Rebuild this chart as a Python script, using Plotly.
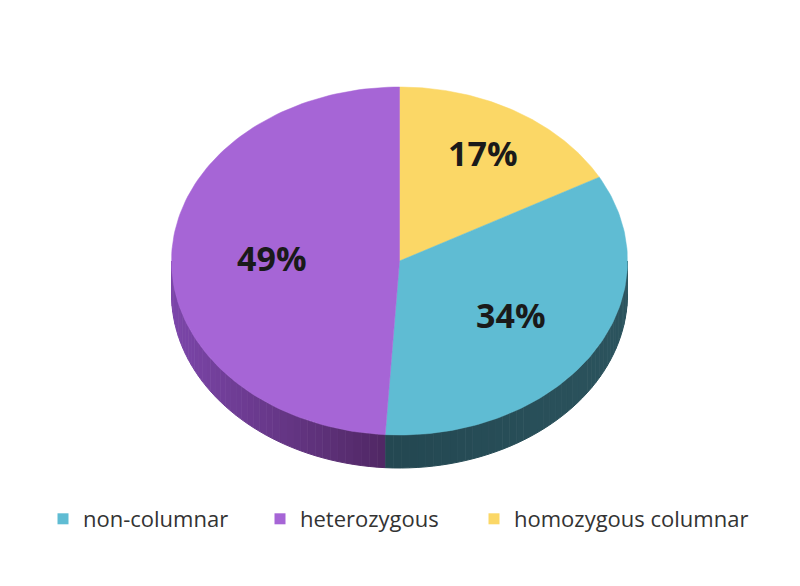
import numpy as np
import plotly.graph_objects as go

# ---- data ----
categories = ["homozygous columnar", "non-columnar", "heterozygous"]   # clockwise from 12 o'clock
values = [17, 34, 49]
labels = ["17%", "34%", "49%"]
legend_order = ["non-columnar", "heterozygous", "homozygous columnar"]

# ---- style ----
top_colors = {"homozygous columnar": "#FBD766", "non-columnar": "#5FBCD3", "heterozygous": "#A665D6"}
side_light = {"homozygous columnar": (200, 165, 60), "non-columnar": (44, 84, 94), "heterozygous": (124, 70, 170)}
side_dark = {"homozygous columnar": (150, 120, 40), "non-columnar": (36, 72, 82), "heterozygous": (78, 38, 96)}
label_r = {"homozygous columnar": 0.72, "non-columnar": 0.58, "heterozygous": 0.56}
legend_swatch_x = [63, 280, 494]   # page x of legend swatch centres

CX, CY, RX, RY, DEPTH = 399.5, 261, 228, 174, 33
OFF = 8  # page offset of the figure (body margin)


def ell(theta_deg, r=1.0):
    t = np.radians(theta_deg)
    return CX + r * RX * np.sin(t), CY - r * RY * np.cos(t)


fig = go.Figure()

total = sum(values)
bounds = np.concatenate([[0], np.cumsum(values) / total * 360.0])

# side walls (visible front half: 90..270 degrees)
for i, cat in enumerate(categories):
    a0, a1 = max(bounds[i], 90), min(bounds[i + 1], 270)
    if a1 <= a0:
        continue
    n = max(int((a1 - a0) / 2), 1)
    edges = np.linspace(a0, a1, n + 1)
    for j in range(n):
        s0, s1 = edges[j], edges[j + 1]
        th = np.linspace(s0, s1, 6)
        xt, yt = ell(th)
        xs = np.concatenate([xt, xt[::-1]])
        ys = np.concatenate([yt, (yt + DEPTH)[::-1]])
        mid = (s0 + s1) / 2
        w = abs(np.sin(np.radians(mid)))
        lc, dc = side_light[cat], side_dark[cat]
        col = tuple(int(dc[k] + (lc[k] - dc[k]) * w) for k in range(3))
        colstr = "rgb(%d,%d,%d)" % col
        fig.add_trace(go.Scatter(x=xs, y=ys, mode="lines", fill="toself",
                                 fillcolor=colstr, line=dict(color=colstr, width=1),
                                 showlegend=False, hoverinfo="skip"))

# top faces
for i, cat in enumerate(categories):
    th = np.linspace(bounds[i], bounds[i + 1], 120)
    xt, yt = ell(th)
    xs = np.concatenate([[CX], xt, [CX]])
    ys = np.concatenate([[CY], yt, [CY]])
    fig.add_trace(go.Scatter(x=xs, y=ys, mode="lines", fill="toself",
                             fillcolor=top_colors[cat], line=dict(color=top_colors[cat], width=0.5),
                             name=cat, showlegend=False, hoverinfo="name"))

# legend entries (square swatches), one legend box per entry
legend_font = dict(family="Open Sans", size=22, color="#333333")
legend_layouts = {}
for k, cat in enumerate(legend_order):
    lname = "legend" if k == 0 else "legend%d" % (k + 1)
    fig.add_trace(go.Scatter(x=[None], y=[None], mode="markers", name=cat,
                             marker=dict(symbol="square", size=11, color=top_colors[cat]),
                             showlegend=True, legend=lname))
    legend_layouts[lname] = dict(orientation="h", x=(legend_swatch_x[k] - OFF - 20) / 800,
                                 y=1 - (519 - OFF) / 586, xanchor="left", yanchor="middle",
                                 font=legend_font, bgcolor="rgba(0,0,0,0)",
                                 itemclick=False, itemdoubleclick=False)

# labels
for i, cat in enumerate(categories):
    mid = (bounds[i] + bounds[i + 1]) / 2
    lx, ly = ell(mid, label_r[cat])
    fig.add_annotation(x=lx, y=ly, text="<b>%s</b>" % labels[i], showarrow=False,
                       font=dict(family="Open Sans", size=34, color="#1a1a1a"))

fig.update_layout(
    width=800, height=586,
    margin=dict(l=0, r=0, t=0, b=0),
    paper_bgcolor="white", plot_bgcolor="white",
    xaxis=dict(range=[OFF, 800 + OFF], visible=False, fixedrange=True),
    yaxis=dict(range=[586 + OFF, OFF], visible=False, fixedrange=True),
    showlegend=True,
    **legend_layouts,
)

fig.write_html("out.html")
